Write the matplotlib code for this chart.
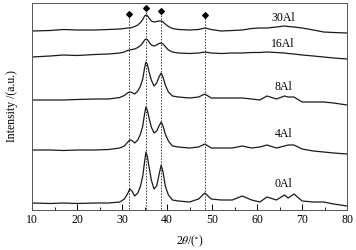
import matplotlib
matplotlib.use('Agg')
import matplotlib.pyplot as plt
from matplotlib.ticker import MultipleLocator

plt.rcParams['font.family'] = ['Liberation Serif', 'DejaVu Serif']
plt.rcParams['mathtext.fontset'] = 'stix'

# 2theta positions (deg) shared by all patterns
two_theta = [10, 14, 17, 20, 24, 27,
             29.5, 30.5, 31.2, 31.7, 32.2, 32.8, 33.5, 34.1, 34.6, 35.0, 35.3, 35.6,
             36.0, 36.5, 37.1, 37.7, 38.2, 38.7, 39.1, 39.6, 40.3, 41.2,
             42.5, 45, 47, 48.4, 49.8, 52, 54.5, 56.7, 58.8, 60.6, 62.2, 64.3, 66.1,
             66.9, 68.2, 70, 72.5, 74.8, 77, 80]

# stacked intensities (a.u.), already offset
i_0al = [9, 8.5, 9, 8.5, 9, 9,
         10, 13, 18, 23, 21, 16, 19, 26, 36, 50, 60, 56, 45, 32, 23, 26, 37, 47, 40, 26, 17, 12,
         11, 10, 13, 19, 13, 12, 12, 16, 12, 10, 15, 12, 17, 14, 18, 11, 10, 10, 8, 6]
i_4al = [62, 62, 61.5, 62, 62, 62.5,
         64, 66, 69.5, 72, 71.5, 69, 72, 78, 86, 98, 105, 102, 94, 85, 79, 81, 86, 90, 86, 78, 71, 66,
         65, 64, 65, 68, 64, 64, 64, 66, 64, 65, 67, 64, 66, 67, 67, 63, 61, 60, 59, 58]
i_8al = [112, 112, 112, 112.5, 113, 113,
         114.5, 116.5, 119, 120, 119.5, 118, 121, 126, 133, 144, 150, 148, 140, 132, 126, 129,
         135, 139, 135, 127, 120, 116,
         115, 114, 115, 118, 114, 114, 114, 114, 113, 112, 116, 113, 116, 115, 115, 110, 110,
         110, 109, 107]
i_16al = [155, 156, 157, 156.5, 157.5, 158,
          159, 160, 161.5, 162, 162.5, 163, 164.5, 166.5, 169, 172, 173, 172.5, 170, 167, 166,
          167, 168.5, 169, 168, 165.5, 162, 160,
          159, 158.5, 159, 160, 159, 158.5, 159, 159, 159.5, 159.5, 160, 159.5, 159, 158.5,
          158, 157, 156, 155, 154, 153]
i_30al = [181, 181.5, 182.5, 182, 182, 182.5,
          183, 183.5, 184, 184, 184.5, 185.5, 187, 189.5, 192.5, 196, 197, 196.5, 194, 191, 190,
          190.5, 191, 191, 190, 188, 185.5, 183.5,
          182.5, 182, 182.5, 184, 182.5, 181, 181.5, 182, 183.5, 184, 184, 185, 186, 185.5,
          185, 184, 182, 180, 179.5, 179]

labels = ['0Al', '4Al', '8Al', '16Al', '30Al']
label_y = [28, 78, 125, 168, 194]

# reference peaks (diamond markers)
peak_pos = [31.6, 35.3, 38.7, 48.4]
peak_mark_y = [198, 204, 201, 197]

fig = plt.figure(figsize=(3.56, 2.5), dpi=100)
ax = fig.add_axes([0.09, 0.16, 0.885, 0.828])

for inten in [i_0al, i_4al, i_8al, i_16al, i_30al]:
    ax.plot(two_theta, inten, color='#1a1a1a', lw=0.9)

for lab, y in zip(labels, label_y):
    ax.text(65.8, y, lab, ha='center', va='center', fontsize=8.5)

for p, y in zip(peak_pos, peak_mark_y):
    ax.plot([p, p], [3, y - 3], color='#333333', lw=0.7, ls=(0, (1.5, 1.5)))
ax.scatter(peak_pos, peak_mark_y, marker='D', s=8, color='black', zorder=3)

ax.set_xlim(10, 80)
ax.set_ylim(2, 209)
ax.xaxis.set_major_locator(MultipleLocator(10))
ax.xaxis.set_minor_locator(MultipleLocator(5))
ax.tick_params(axis='x', which='major', direction='in', length=4, width=0.7,
               labelsize=8.5, pad=3)
ax.tick_params(axis='x', which='minor', direction='in', length=2, width=0.6)
ax.set_yticks([])
for s in ax.spines.values():
    s.set_linewidth(0.7)
    s.set_color('#555555')

ax.set_xlabel(r'2$\theta$/($^{\circ}$)', fontsize=8.5, labelpad=5)
ax.set_ylabel('Intensity /(a.u.)', fontsize=8.5, labelpad=10)

fig.savefig('out.png', dpi=100)
